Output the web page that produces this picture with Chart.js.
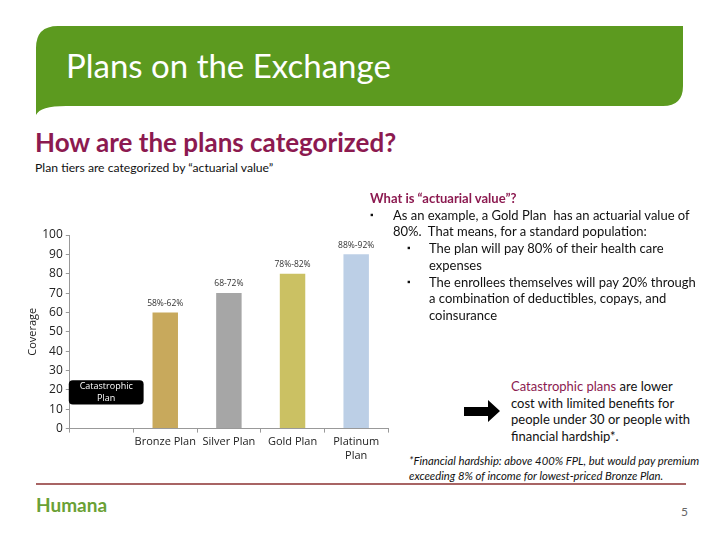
<!DOCTYPE html>
<html>
<head>
<meta charset="utf-8">
<script src="https://cdn.jsdelivr.net/npm/chart.js@4.4.1/dist/chart.umd.min.js"></script>
<style>
    html, body {
        margin: 0;
        padding: 0;
        background: #fff;
    }
    #slide {
        position: relative;
        width: 720px;
        height: 540px;
        overflow: hidden;
        font-family: "Lato", "Open Sans", sans-serif;
        color: #111;
    }
    .abs {
        position: absolute;
        white-space: nowrap;
    }
    #banner {
        position: absolute;
        left: 0;
        top: 0;
    }
    #title {
        left: 66px;
        top: 45px;
        font-size: 33px;
        color: #fff;
    }
    #question {
        left: 35px;
        top: 126px;
        font-size: 26px;
        font-weight: bold;
        color: #8c1a50;
    }
    #subtitle {
        left: 35px;
        top: 160px;
        font-size: 12.2px;
    }
    #chartBox {
        position: absolute;
        left: 15px;
        top: 222px;
        width: 385px;
        height: 250px;
    }
    #explain {
        left: 370px;
        top: 190px;
        font-size: 13px;
        line-height: 16.7px;
    }
    #explain .head {
        color: #8c1a50;
        font-weight: bold;
    }
    .row {
        position: relative;
    }
    .b1 { padding-left: 23px; }
    .b2 { padding-left: 59px; }
    .dot {
        position: absolute;
        font-size: 9px;
    }
    #cata {
        left: 511px;
        top: 378px;
        font-size: 13px;
        line-height: 16.7px;
    }
    #cata .hl {
        color: #8c1a50;
    }
    #arrow {
        position: absolute;
        left: 464px;
        top: 400px;
    }
    #note {
        left: 409px;
        top: 453px;
        font-size: 11.3px;
        line-height: 15px;
        font-style: italic;
        font-weight: normal;
    }
    #rule {
        position: absolute;
        left: 36px;
        top: 483px;
        width: 650px;
        height: 2px;
        background: #a86464;
    }
    #logo {
        left: 36px;
        top: 493px;
        font-size: 19px;
        font-weight: bold;
        color: #6aa135;
    }
    #page {
        left: 681px;
        top: 504px;
        font-size: 12px;
        color: #666;
    }
</style>
</head>
<body>
<div id="slide">
    <svg id="banner" width="720" height="130">
        <path d="M36,115 L36,48 Q36,26 58,26 L683,26 L683,86 Q683,106 663,106 L66,106 Q40,106 36,115 Z" fill="#5c9a1f"/>
    </svg>
    <div id="title" class="abs">Plans on the Exchange</div>
    <div id="question" class="abs">How are the plans categorized?</div>
    <div id="subtitle" class="abs">Plan tiers are categorized by “actuarial value”</div>

    <div id="chartBox"><canvas id="planChart"></canvas></div>

    <div id="explain" class="abs">
        <div class="head">What is “actuarial value”?</div>
        <div class="row b1"><span class="dot" style="left:0">▪</span>As an example, a Gold Plan&nbsp; has an actuarial value of</div>
        <div class="row b1">80%.&nbsp; That means, for a standard population:</div>
        <div class="row b2"><span class="dot" style="left:37px">▪</span>The plan will pay 80% of their health care</div>
        <div class="row b2">expenses</div>
        <div class="row b2"><span class="dot" style="left:37px">▪</span>The enrollees themselves will pay 20% through</div>
        <div class="row b2">a combination of deductibles, copays, and</div>
        <div class="row b2">coinsurance</div>
    </div>

    <svg id="arrow" width="40" height="26">
        <path d="M0,7 L24,7 L24,0 L36,11 L24,22 L24,16 L0,16 Z" fill="#000"/>
    </svg>
    <div id="cata" class="abs">
        <div><span class="hl">Catastrophic plans</span> are lower</div>
        <div>cost with limited benefits for</div>
        <div>people under 30 or people with</div>
        <div>financial hardship*.</div>
    </div>
    <div id="note" class="abs">
        <div>*Financial hardship: above 400% FPL, but would pay premium</div>
        <div>exceeding 8% of income for lowest-priced Bronze Plan.</div>
    </div>

    <div id="rule"></div>
    <div id="logo" class="abs">Humana</div>
    <div id="page" class="abs">5</div>
</div>

<script>
const categories = ["", "Bronze Plan", "Silver Plan", "Gold Plan", ["Platinum", "Plan"]];
const coverage = [null, 60, 70, 80, 90];
const rangeLabels = ["", "58%-62%", "68-72%", "78%-82%", "88%-92%"];
const barColors = ["#000000", "#c8a95c", "#a6a6a6", "#cbc163", "#bccfe6"];
const yTicks = [0, 10, 20, 30, 40, 50, 60, 70, 80, 90, 100];
const catastrophicBand = [12.5, 25];

// range text above each bar
const rangeLabelPlugin = {
    id: "rangeLabels",
    afterDatasetsDraw(chart) {
        const ctx = chart.ctx;
        const meta = chart.getDatasetMeta(0);
        ctx.save();
        ctx.font = "8.5px 'Open Sans', sans-serif";
        ctx.fillStyle = "#333";
        ctx.textAlign = "center";
        ctx.textBaseline = "bottom";
        meta.data.forEach((bar, i) => {
            if (coverage[i] == null) return;
            ctx.fillText(rangeLabels[i], bar.x, bar.y - 5);
        });
        ctx.restore();
    },
};

// black rounded label for the catastrophic tier
const catastrophicPlugin = {
    id: "catastrophicBox",
    afterDatasetsDraw(chart) {
        const ctx = chart.ctx;
        const x = chart.scales.x;
        const y = chart.scales.y;
        const left = x.left - 1;
        const right = x.getPixelForValue(0) + (x.getPixelForValue(1) - x.getPixelForValue(0)) * 0.66;
        const top = y.getPixelForValue(catastrophicBand[1]);
        const bottom = y.getPixelForValue(catastrophicBand[0]);
        ctx.save();
        ctx.fillStyle = "#000";
        ctx.beginPath();
        ctx.roundRect(left, top, right - left, bottom - top, 4);
        ctx.fill();
        ctx.fillStyle = "#fff";
        ctx.font = "9px 'Open Sans', sans-serif";
        ctx.textAlign = "center";
        ctx.textBaseline = "middle";
        const cx = (left + right) / 2;
        const cy = (top + bottom) / 2;
        ctx.fillText("Catastrophic", cx, cy - 6);
        ctx.fillText("Plan", cx, cy + 6);
        ctx.restore();
    },
};

new Chart(document.getElementById("planChart"), {
    type: "bar",
    data: {
        labels: categories,
        datasets: [
            {
                data: coverage,
                backgroundColor: barColors,
                barPercentage: 0.8,
                categoryPercentage: 0.5,
            },
        ],
    },
    options: {
        responsive: true,
        maintainAspectRatio: false,
        animation: false,
        layout: {
            padding: { top: 13, right: 12, bottom: 7, left: 11 },
        },
        plugins: {
            legend: { display: false },
            tooltip: { enabled: false },
        },
        scales: {
            x: {
                grid: {
                    display: true,
                    drawOnChartArea: false,
                    tickLength: 4,
                    color: "#999",
                },
                border: { color: "#999" },
                ticks: {
                    color: "#222",
                    font: { family: "'Open Sans', sans-serif", size: 11 },
                    maxRotation: 0,
                    autoSkip: false,
                },
            },
            y: {
                min: 0,
                max: 100,
                afterBuildTicks(scale) {
                    scale.ticks = yTicks.map((v) => ({ value: v }));
                },
                grid: {
                    display: true,
                    drawOnChartArea: false,
                    tickLength: 4,
                    color: "#999",
                },
                border: { color: "#999" },
                ticks: {
                    color: "#222",
                    padding: 3,
                    font: { family: "'Open Sans', sans-serif", size: 12 },
                },
                title: {
                    display: true,
                    text: "Coverage",
                    color: "#222",
                    padding: { top: 0, bottom: 0 },
                    font: { family: "'Open Sans', sans-serif", size: 11 },
                },
            },
        },
    },
    plugins: [rangeLabelPlugin, catastrophicPlugin],
});
</script>
</body>
</html>
